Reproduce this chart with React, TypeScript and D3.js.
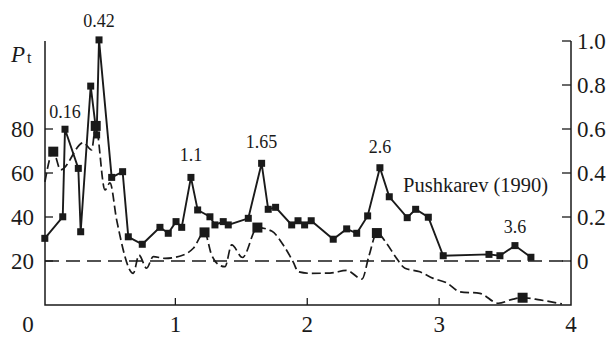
import React from "react";
import * as d3 from "d3";

// Period axis ticks
const xTicks = [0, 1, 2, 3, 4];
const leftTicks = [20, 40, 60, 80];
const rightTicks = [0, 0.2, 0.4, 0.6, 0.8, 1.0];

// Solid series: P_t versus period
const solidX = [0.01, 0.146, 0.163, 0.264, 0.282, 0.358, 0.403, 0.421, 0.517, 0.6, 0.643, 0.749, 0.883, 0.946, 1.005, 1.048, 1.118, 1.169, 1.262, 1.3, 1.363, 1.401, 1.553, 1.654, 1.704, 1.76, 1.882, 1.93, 1.98, 2.03, 2.197, 2.299, 2.375, 2.458, 2.551, 2.622, 2.758, 2.822, 2.918, 3.031, 3.378, 3.461, 3.575, 3.696];
const solidY = [30.3, 40.1, 79.9, 62.1, 33.3, 99.5, 77.3, 120.5, 58.0, 60.6, 31.0, 27.6, 35.3, 32.6, 37.9, 35.3, 58.0, 43.2, 40.1, 36.4, 37.9, 36.4, 39.4, 64.4, 43.5, 44.4, 36.4, 38.3, 36.4, 38.3, 29.9, 34.6, 32.6, 40.5, 62.4, 49.2, 39.7, 43.5, 39.9, 22.4, 23.0, 22.4, 27.0, 21.7];

// Dashed series (right axis)
const dashX = [0.011, 0.074, 0.13, 0.302, 0.365, 0.396, 0.466, 0.504, 0.555, 0.681, 0.724, 0.782, 0.832, 0.921, 1.06, 1.136, 1.221, 1.275, 1.325, 1.376, 1.427, 1.509, 1.622, 1.73, 1.823, 1.894, 1.932, 2.02, 2.172, 2.299, 2.415, 2.468, 2.528, 2.602, 2.665, 2.741, 2.854, 2.955, 3.057, 3.158, 3.309, 3.448, 3.562, 3.633, 3.764, 3.931];
const dashY = [0.36, 0.497, 0.414, 0.538, 0.505, 0.614, 0.323, 0.355, 0.186, -0.056, 0.027, -0.033, 0.02, 0.012, 0.027, 0.058, 0.13, 0.027, -0.016, -0.026, 0.073, 0.016, 0.152, 0.136, 0.068, -0.005, -0.049, -0.056, -0.055, -0.043, -0.082, 0.023, 0.127, 0.08, 0.023, -0.033, -0.049, -0.079, -0.099, -0.14, -0.147, -0.192, -0.173, -0.167, -0.177, -0.195];
// Indices of dashed points drawn with large markers
const dashMarked = [1, 5, 16, 22, 32, 43];

// Peak annotations
const peakLabels = ["0.16", "0.42", "1.1", "1.65", "2.6", "3.6"];
const peakAt = [2, 7, 16, 23, 34, 42];
const sourceLabel = "Pushkarev (1990)";

const W = 613;
const H = 339;
const serif = "'Liberation Serif', 'Times New Roman', serif";
const ink = "#1a1a1a";

export default function App() {
  const x = d3.scaleLinear().domain([0, 4]).range([43.5, 571]);
  const yL = d3.scaleLinear().domain([0, 120]).range([305, 41]);
  const yR = d3.scaleLinear().domain([-0.2, 1.0]).range([305, 41]);

  const left = 45;
  const right = 571;
  const bottom = yL(0);
  const top = yL(120);

  const solidPts = solidX.map((v, i) => [x(v), yL(solidY[i])] as [number, number]);
  const dashPts = dashX.map((v, i) => [x(v), yR(dashY[i])] as [number, number]);

  const solidPath = d3.line()(solidPts) ?? "";
  const dashPath = d3.line().curve(d3.curveMonotoneX)(dashPts) ?? "";

  // vertical gap between each peak marker and its label baseline
  const labelGap = [11, 13, 16, 15, 15, 13];

  return (
    <svg width={W} height={H} style={{ position: "absolute", left: 0, top: 0, background: "#fff" }}>
      {/* zero reference line */}
      <line x1={left} x2={right} y1={yR(0)} y2={yR(0)} stroke={ink} strokeWidth={1.3} strokeDasharray="14,7" />

      {/* frame: left, right and bottom axes */}
      <path d={`M${left},${top}V${bottom}H${right}V${top}`} fill="none" stroke={ink} strokeWidth={1.5} />

      {leftTicks.map((t) => (
        <g key={`l${t}`}>
          <line x1={left} x2={left + 8} y1={yL(t)} y2={yL(t)} stroke={ink} strokeWidth={1.3} />
          <text x={34} y={yL(t)} dy="0.35em" textAnchor="end" fontFamily={serif} fontSize={23} fill={ink}>{t}</text>
        </g>
      ))}

      {rightTicks.map((t) => (
        <g key={`r${t}`}>
          <line x1={right - 9} x2={right} y1={yR(t)} y2={yR(t)} stroke={ink} strokeWidth={1.3} />
          <text x={577} y={yR(t)} dy="0.35em" textAnchor="start" fontFamily={serif} fontSize={23} fill={ink}>{d3.format(t === 0 ? "d" : ".1f")(t)}</text>
        </g>
      ))}

      {xTicks.map((t) => (
        <g key={`x${t}`}>
          {t > 0 && t < 4 && <line x1={x(t)} x2={x(t)} y1={bottom} y2={bottom - 7} stroke={ink} strokeWidth={1.3} />}
          <text x={t === 0 ? 28 : x(t)} y={332} textAnchor="middle" fontFamily={serif} fontSize={23} fill={ink}>{t}</text>
        </g>
      ))}

      {/* axis title */}
      <text x={11} y={62} fontFamily={serif} fontSize={23} fill={ink}>
        <tspan fontStyle="italic">P</tspan>
        <tspan fontSize={16} dx={2} dy={1}>t</tspan>
      </text>

      {/* dashed series */}
      <path d={dashPath} fill="none" stroke={ink} strokeWidth={1.7} strokeDasharray="9,4" />
      {dashMarked.map((i) => (
        <rect key={`dm${i}`} x={dashPts[i][0] - 5} y={dashPts[i][1] - 5} width={10} height={10} fill={ink} />
      ))}

      {/* solid series */}
      <path d={solidPath} fill="none" stroke={ink} strokeWidth={1.9} />
      {solidPts.map((p, i) => (
        <rect key={`s${i}`} x={p[0] - 3.5} y={p[1] - 3.5} width={7} height={7} fill={ink} />
      ))}

      {/* peak labels */}
      {peakLabels.map((lab, k) => {
        const p = solidPts[peakAt[k]];
        return (
          <text key={lab} x={p[0]} y={p[1] - labelGap[k]} textAnchor="middle" fontFamily={serif} fontSize={18} fill={ink}>{lab}</text>
        );
      })}

      <text x={403} y={192} fontFamily={serif} fontSize={20.5} fill={ink}>{sourceLabel}</text>
    </svg>
  );
}
